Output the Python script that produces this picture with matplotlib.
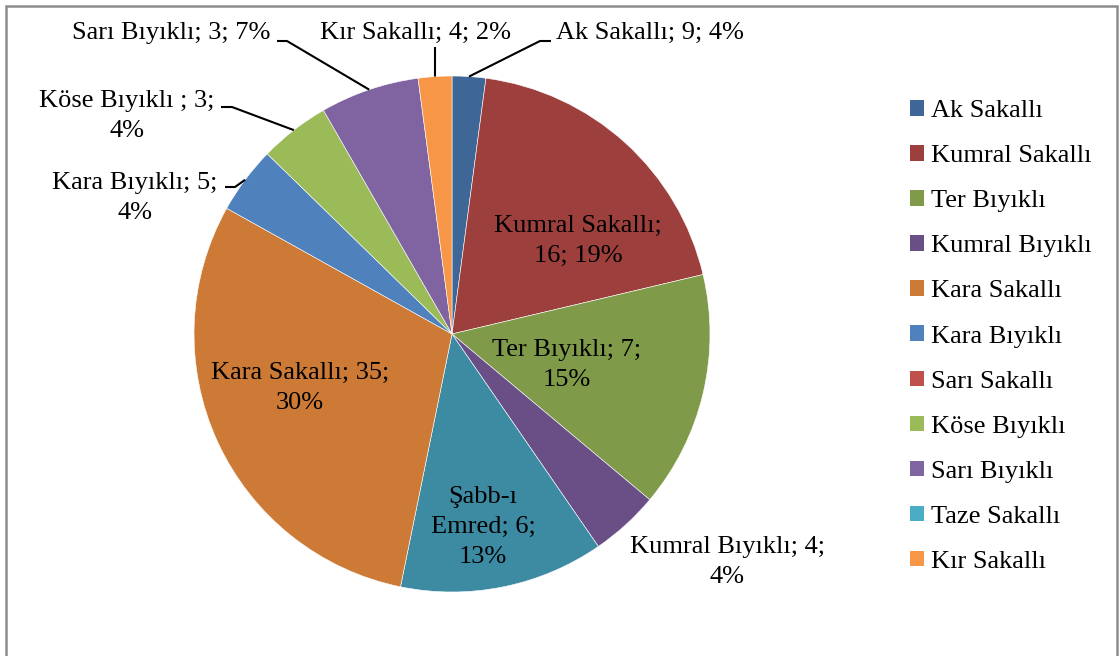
import numpy as np
import matplotlib.pyplot as plt
from matplotlib.patches import Patch, Rectangle

# Slice data (clockwise from 12 o'clock), shares
slice_names = ['Ak Sakallı', 'Kumral Sakallı', 'Ter Bıyıklı', 'Kumral Bıyıklı', 'Şabb-ı Emred',
               'Kara Sakallı', 'Kara Bıyıklı', 'Köse Bıyıklı', 'Sarı Bıyıklı', 'Kır Sakallı']
slice_shares = [2.1, 19.2, 14.8, 4.3, 12.8, 29.9, 4.2, 4.4, 6.2, 2.1]
label_counts = [9, 16, 7, 4, 6, 35, 5, 3, 3, 4]
label_pcts = [4, 19, 15, 4, 13, 30, 4, 4, 7, 2]
slice_colors = ['#3E6797', '#9D3F3C', '#7F9A48', '#6A4F87', '#3D8BA3',
                '#CD7A37', '#4F81BD', '#9BBB59', '#8064A2', '#F79646']

# Legend entries (as in the original chart)
legend_names = ['Ak Sakallı', 'Kumral Sakallı', 'Ter Bıyıklı', 'Kumral Bıyıklı', 'Kara Sakallı',
                'Kara Bıyıklı', 'Sarı Sakallı', 'Köse Bıyıklı', 'Sarı Bıyıklı', 'Taze Sakallı', 'Kır Sakallı']
legend_colors = ['#3E6797', '#9D3F3C', '#7F9A48', '#6A4F87', '#CD7A37',
                 '#4F81BD', '#C0504D', '#9BBB59', '#8064A2', '#4BACC6', '#F79646']

# label texts with the line breaks used in the chart
label_texts = [
    f'{slice_names[0]}; {label_counts[0]}; {label_pcts[0]}%',
    f'{slice_names[1]};\n{label_counts[1]}; {label_pcts[1]}%',
    f'{slice_names[2]}; {label_counts[2]};\n{label_pcts[2]}%',
    f'{slice_names[3]}; {label_counts[3]};\n{label_pcts[3]}%',
    f'Şabb-ı\nEmred; {label_counts[4]};\n{label_pcts[4]}%',
    f'{slice_names[5]}; {label_counts[5]};\n{label_pcts[5]}%',
    f'{slice_names[6]}; {label_counts[6]};\n{label_pcts[6]}%',
    f'{slice_names[7]} ; {label_counts[7]};\n{label_pcts[7]}%',
    f'{slice_names[8]}; {label_counts[8]}; {label_pcts[8]}%',
    f'{slice_names[9]}; {label_counts[9]}; {label_pcts[9]}%',
]

W, H = 1119, 656
plt.rcParams['font.family'] = ['Liberation Serif', 'DejaVu Serif']
FS = 19

fig = plt.figure(figsize=(W / 100, H / 100), dpi=100)
ax = fig.add_axes([0, 0, 1, 1])

cx, cy, R = 452, H - 334, 258
wedges, _ = ax.pie(slice_shares, colors=slice_colors, startangle=90, counterclock=False,
                   center=(cx, cy), radius=R,
                   wedgeprops=dict(edgecolor='white', linewidth=0.4))
ax.set_xlim(0, W)
ax.set_ylim(0, H)
ax.set_aspect('auto')
ax.axis('off')

# label positions in pixel coords (y from top): (x, y, leader points from text side)
label_layout = {
    0: (650, 33, [(551, 41), (540, 41)]),
    1: (578, 241, None),
    2: (567, 365, None),
    3: (727, 562, None),
    4: (483, 527, None),
    5: (300, 388, None),
    6: (135, 198, [(225, 187), (235, 187)]),
    7: (127, 116, [(221, 107), (232, 107)]),
    8: (171, 33, [(277, 41), (287, 41)]),
    9: (415, 33, [(435, 47)]),
}

for i, w in enumerate(wedges):
    x, y, leader = label_layout[i]
    ax.text(x, H - y, label_texts[i], fontsize=FS, ha='center', va='center',
            multialignment='center', linespacing=1.45)
    if leader:
        mid = np.deg2rad((w.theta1 + w.theta2) / 2)
        ex, ey = cx + R * np.cos(mid), cy + R * np.sin(mid)
        xs = [p[0] for p in leader] + [ex]
        ys = [H - p[1] for p in leader] + [ey]
        ax.plot(xs, ys, color='black', lw=1.5, solid_capstyle='butt')

handles = [Patch(facecolor=c, edgecolor='none') for c in legend_colors]
ax.legend(handles, legend_names, loc='upper left', frameon=False, fontsize=FS,
          bbox_to_anchor=(910 / W, 1 - 100 / H), borderaxespad=0, borderpad=0,
          handlelength=0.53, handleheight=0.53, handletextpad=0.27, labelspacing=0.87)

# chart area border
fig.patches.append(Rectangle((6 / W, -0.05), (1117 - 6) / W, 1.05 - 6 / H,
                             transform=fig.transFigure, fill=False,
                             edgecolor='#8c8c8c', linewidth=1.8))

fig.savefig('out.png', dpi=100)
